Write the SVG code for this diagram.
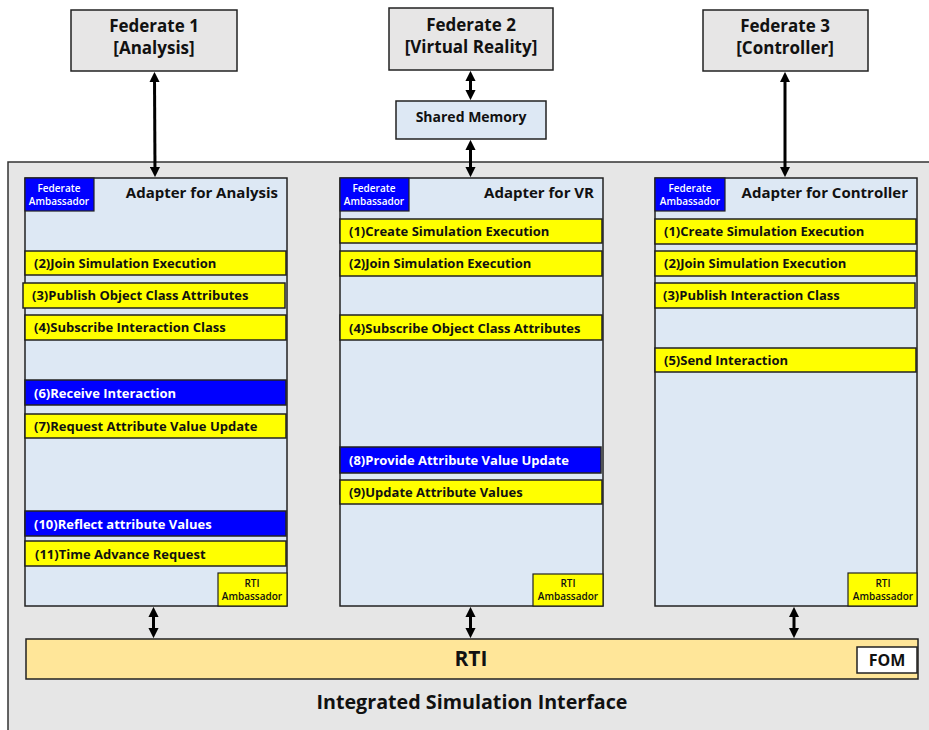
<svg xmlns="http://www.w3.org/2000/svg" width="929" height="730" viewBox="0 0 929 730">
<defs>
<style>
text{font-family:"Open Sans","Noto Sans","Liberation Sans",sans-serif;font-weight:bold;}
.fed{fill:#e7e6e6;stroke:#222;stroke-width:1.5;}
.adp{fill:#dde8f4;stroke:#222;stroke-width:1.5;}
.yb{fill:#ffff00;stroke:#222;stroke-width:1.5;}
.bb{fill:#0000ff;stroke:#222;stroke-width:1.5;}
.yt{font-size:13px;fill:#111;}
.bt{font-size:13px;fill:#fff;}
.ft{font-size:17px;fill:#111;text-anchor:middle;}
.at{font-size:15px;fill:#111;text-anchor:end;}
.fa{font-size:10px;fill:#fff;text-anchor:middle;font-weight:600;}
.ra{font-size:10px;fill:#111;text-anchor:middle;font-weight:600;}
.conn line{stroke:#000;stroke-width:3;marker-start:url(#ah);marker-end:url(#ah);}
</style>
<marker id="ah" viewBox="0 0 10 10" refX="5" refY="5" markerWidth="3.4" markerHeight="3.4" orient="auto-start-reverse" markerUnits="strokeWidth">
<path d="M0,0 L10,5 L0,10 z" fill="#000"/>
</marker>
</defs>
<rect width="929" height="730" fill="#fff"/>

<!-- integrated simulation interface frame -->
<g id="isi">
<rect x="8" y="162" width="940" height="590" fill="#e6e6e6" stroke="#333" stroke-width="1.5"/>
<text x="472" y="709" font-size="19.7" fill="#111" text-anchor="middle">Integrated Simulation Interface</text>
</g>

<!-- federates -->
<g id="fed1">
<rect class="fed" x="71" y="10" width="166" height="61"/>
<text class="ft" x="154" y="32">Federate 1</text>
<text class="ft" x="154" y="54">[Analysis]</text>
</g>
<g id="fed2">
<rect class="fed" x="389" y="8" width="164" height="62"/>
<text class="ft" x="471" y="31">Federate 2</text>
<text class="ft" x="471" y="53">[Virtual Reality]</text>
</g>
<g id="fed3">
<rect class="fed" x="703" y="10" width="165" height="61"/>
<text class="ft" x="785" y="32">Federate 3</text>
<text class="ft" x="785" y="54">[Controller]</text>
</g>
<g id="shm">
<rect x="396" y="101" width="150" height="38" fill="#dde8f4" stroke="#222" stroke-width="1.5"/>
<text x="471" y="122" font-size="14" fill="#111" text-anchor="middle">Shared Memory</text>
</g>

<!-- adapter for analysis -->
<g id="adp1">
<rect class="adp" x="25" y="178" width="262" height="428"/>
<rect x="25" y="178" width="69" height="33" fill="#0000ff" stroke="#222" stroke-width="1.2"/>
<text class="fa" x="59" y="192">Federate</text>
<text class="fa" x="59" y="205">Ambassador</text>
<text class="at" x="278" y="198">Adapter for Analysis</text>
<rect class="yb" x="25" y="251" width="261" height="24"/>
<text class="yt" x="34" y="268">(2)Join Simulation Execution</text>
<rect class="yb" x="23" y="283" width="262" height="25"/>
<text class="yt" x="32" y="300">(3)Publish Object Class Attributes</text>
<rect class="yb" x="25" y="315" width="261" height="25"/>
<text class="yt" x="34" y="332">(4)Subscribe Interaction Class</text>
<rect class="bb" x="25" y="380" width="261" height="25"/>
<text class="bt" x="34" y="398">(6)Receive Interaction</text>
<rect class="yb" x="25" y="414" width="261" height="24"/>
<text class="yt" x="34" y="431">(7)Request Attribute Value Update</text>
<rect class="bb" x="25" y="511" width="261" height="25"/>
<text class="bt" x="34" y="529">(10)Reflect attribute Values</text>
<rect class="yb" x="25" y="541" width="261" height="25"/>
<text class="yt" x="35" y="559">(11)Time Advance Request</text>
<rect x="218" y="573" width="69" height="33" fill="#ffff00" stroke="#222" stroke-width="1.2"/>
<text class="ra" x="252" y="587">RTI</text>
<text class="ra" x="252" y="600">Ambassador</text>
</g>

<!-- adapter for VR -->
<g id="adp2">
<rect class="adp" x="340" y="178" width="263" height="428"/>
<rect x="340" y="178" width="69" height="33" fill="#0000ff" stroke="#222" stroke-width="1.2"/>
<text class="fa" x="374" y="192">Federate</text>
<text class="fa" x="374" y="205">Ambassador</text>
<text class="at" x="594" y="198">Adapter for VR</text>
<rect class="yb" x="340" y="219" width="262" height="24"/>
<text class="yt" x="349" y="236">(1)Create Simulation Execution</text>
<rect class="yb" x="340" y="251" width="262" height="25"/>
<text class="yt" x="349" y="268">(2)Join Simulation Execution</text>
<rect class="yb" x="340" y="315" width="262" height="25"/>
<text class="yt" x="349" y="333">(4)Subscribe Object Class Attributes</text>
<rect class="bb" x="340" y="447" width="261" height="26"/>
<text class="bt" x="349" y="465">(8)Provide Attribute Value Update</text>
<rect class="yb" x="340" y="480" width="262" height="24"/>
<text class="yt" x="349" y="497">(9)Update Attribute Values</text>
<rect x="533" y="574" width="70" height="32" fill="#ffff00" stroke="#222" stroke-width="1.2"/>
<text class="ra" x="568" y="587">RTI</text>
<text class="ra" x="568" y="600">Ambassador</text>
</g>

<!-- adapter for controller -->
<g id="adp3">
<rect class="adp" x="655" y="178" width="262" height="428"/>
<rect x="655" y="178" width="70" height="33" fill="#0000ff" stroke="#222" stroke-width="1.2"/>
<text class="fa" x="690" y="192">Federate</text>
<text class="fa" x="690" y="205">Ambassador</text>
<text class="at" x="908" y="198">Adapter for Controller</text>
<rect class="yb" x="655" y="219" width="261" height="25"/>
<text class="yt" x="664" y="236">(1)Create Simulation Execution</text>
<rect class="yb" x="655" y="251" width="261" height="25"/>
<text class="yt" x="664" y="268">(2)Join Simulation Execution</text>
<rect class="yb" x="655" y="283" width="260" height="25"/>
<text class="yt" x="663" y="300">(3)Publish Interaction Class</text>
<rect class="yb" x="655" y="348" width="261" height="24"/>
<text class="yt" x="664" y="365">(5)Send Interaction</text>
<rect x="848" y="573" width="69" height="33" fill="#ffff00" stroke="#222" stroke-width="1.2"/>
<text class="ra" x="883" y="587">RTI</text>
<text class="ra" x="883" y="600">Ambassador</text>
</g>

<!-- RTI -->
<g id="rti">
<rect x="26" y="639" width="892" height="40" fill="#ffe699" stroke="#222" stroke-width="1.5"/>
<text x="471" y="666" font-size="21" fill="#111" text-anchor="middle">RTI</text>
</g>
<g id="fom">
<rect x="857" y="647" width="60" height="26" fill="#fff" stroke="#222" stroke-width="1.5"/>
<text x="887" y="666" font-size="16" fill="#111" text-anchor="middle">FOM</text>
</g>

<!-- connectors: double-headed links, tips touching the box edges -->
<g id="connectors" class="conn">
<line x1="154.5" y1="77" x2="155" y2="172"/>
<line x1="470.5" y1="76" x2="470.5" y2="95"/>
<line x1="470.5" y1="145" x2="470.5" y2="172"/>
<line x1="785" y1="77" x2="785" y2="172"/>
<line x1="153.5" y1="612" x2="153.5" y2="633"/>
<line x1="470.5" y1="612" x2="470.5" y2="633"/>
<line x1="794" y1="612" x2="794" y2="633"/>
</g>
</svg>
